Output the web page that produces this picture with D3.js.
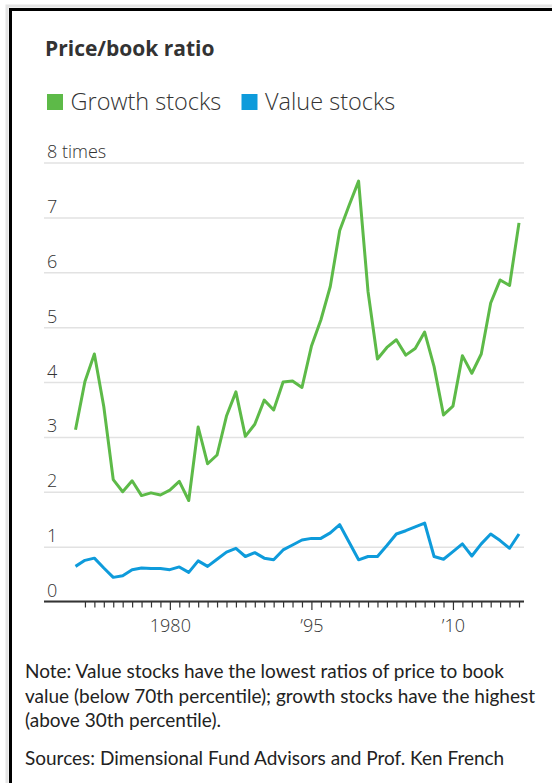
<!DOCTYPE html>
<html>
<head>
<meta charset="utf-8">
<script src="https://cdn.jsdelivr.net/npm/d3@7"></script>
<style>
  html, body { margin: 0; padding: 0; background: #fff; }
  svg { display: block; }
</style>
</head>
<body>
<script>
// years on the x axis, one point per year
var years = d3.range(1970, 2018);

// price/book ratio, growth stocks
var growth = [3.13, 4.01, 4.51, 3.55, 2.22, 2.00, 2.20, 1.93, 1.98, 1.94,
              2.03, 2.19, 1.84, 3.18, 2.51, 2.67, 3.38, 3.82, 3.01, 3.23,
              3.67, 3.49, 4.00, 4.02, 3.90, 4.65, 5.13, 5.74, 6.76, 7.22,
              7.66, 5.65, 4.42, 4.63, 4.77, 4.49, 4.61, 4.91, 4.28, 3.40,
              3.56, 4.48, 4.16, 4.51, 5.44, 5.86, 5.76, 6.90];

// price/book ratio, value stocks
var value = [0.64, 0.75, 0.79, 0.61, 0.44, 0.47, 0.58, 0.61, 0.60, 0.60,
             0.58, 0.63, 0.53, 0.74, 0.64, 0.77, 0.90, 0.97, 0.82, 0.89,
             0.79, 0.76, 0.94, 1.03, 1.12, 1.15, 1.15, 1.25, 1.40, 1.08,
             0.76, 0.82, 0.82, 1.02, 1.23, 1.29, 1.36, 1.43, 0.82, 0.77,
             0.91, 1.05, 0.83, 1.05, 1.23, 1.11, 0.97, 1.23];

// y tick values and the labelled x ticks
var yTicks = [0, 1, 2, 3, 4, 5, 6, 7, 8];
var xTicks = d3.range(1971, 2018);
var xLabels = {1980: "1980", 1995: "\u201995", 2010: "\u201910"};

var seriesNames = ["Growth stocks", "Value stocks"];
var seriesColors = ["#5dba48", "#0e9bdb"];

// ----------------------------------------------------------- //

var width = 552;
var height = 783;

var plotLeft = 44;
var plotRight = 524;

var svg = d3.select("body").append("svg")
    .attr("width", width)
    .attr("height", height);

// frame with a faint shadow
svg.append("rect")
  .attr("x", 7).attr("y", 6)
  .attr("width", 600).attr("height", 800)
  .attr("fill", "none")
  .attr("stroke", "#e4e4e4")
  .attr("stroke-width", 3);

svg.append("rect")
  .attr("x", 10.5).attr("y", 9.5)
  .attr("width", 600).attr("height", 800)
  .attr("fill", "#fff")
  .attr("stroke", "#000")
  .attr("stroke-width", 3);

// title
svg.append("text")
  .attr("x", 45).attr("y", 56)
  .attr("font-family", "'Open Sans', sans-serif")
  .attr("font-weight", 700)
  .attr("font-size", 21)
  .attr("fill", "#333")
  .text("Price/book ratio");

// legend
var legendX = [47, 241.5];
var legend = svg.selectAll("g.legend")
  .data(seriesNames)
  .enter().append("g")
  .attr("class", "legend")
  .attr("transform", (d, i) => `translate(${legendX[i]},0)`);

legend.append("rect")
  .attr("x", 0).attr("y", 94)
  .attr("width", 16).attr("height", 16)
  .attr("fill", (d, i) => seriesColors[i]);

legend.append("text")
  .attr("x", 23.5).attr("y", 109.5)
  .attr("font-family", "'Open Sans', sans-serif")
  .attr("font-weight", 300)
  .attr("font-size", 23.5)
  .attr("fill", "#333")
  .text(d => d);

// ----------------------------------------------------------- //

var xScale = d3.scaleLinear()
  .domain([1970, 2017])
  .range([75.5, 519]);

var yScale = d3.scaleLinear()
  .domain([0, 8])
  .range([601.5, 162.5]);

// y axis: grid lines with labels sitting on them
var yAxis = svg.append("g")
  .attr("transform", `translate(${plotLeft},0)`)
  .call(d3.axisLeft(yScale)
    .tickValues(yTicks)
    .tickSize(-(plotRight - plotLeft))
    .tickFormat(d => d === 8 ? "8 times" : d));

yAxis.select(".domain").remove();
yAxis.selectAll(".tick line")
  .attr("stroke", "#e2e2e2")
  .attr("stroke-width", 1.5);
yAxis.selectAll(".tick text")
  .attr("x", 3)
  .attr("dy", -5)
  .attr("text-anchor", "start")
  .attr("font-family", "'Open Sans', sans-serif")
  .attr("font-weight", 300)
  .attr("font-size", 18)
  .attr("fill", "#333");

// x axis: a tick every year, three of them labelled
var xAxis = svg.append("g")
  .attr("transform", `translate(0,${yScale(0)})`)
  .call(d3.axisBottom(xScale)
    .tickValues(xTicks)
    .tickSize(6)
    .tickFormat(d => xLabels[d] || ""));

xAxis.select(".domain").remove();
xAxis.selectAll(".tick line")
  .attr("stroke", "#333")
  .attr("stroke-width", 1.2)
  .attr("y2", d => xLabels[d] ? 8.5 : 6);
xAxis.selectAll(".tick text")
  .attr("y", 30)
  .attr("dy", 0)
  .attr("font-family", "'Open Sans', sans-serif")
  .attr("font-weight", 300)
  .attr("font-size", 18)
  .attr("fill", "#333");

xAxis.append("line")
  .attr("x1", plotLeft).attr("x2", plotRight)
  .attr("y1", 0).attr("y2", 0)
  .attr("stroke", "#333")
  .attr("stroke-width", 2);

// ----------------------------------------------------------- //

var line = d3.line()
  .x((d, i) => xScale(years[i]))
  .y(d => yScale(d));

svg.selectAll("path.series")
  .data([growth, value])
  .enter().append("path")
  .attr("class", "series")
  .attr("d", line)
  .attr("fill", "none")
  .attr("stroke", (d, i) => seriesColors[i])
  .attr("stroke-width", 3)
  .attr("stroke-linejoin", "round");

// ----------------------------------------------------------- //

// footnote
var noteLines = [
  "Note: Value stocks have the lowest ratios of price to book",
  "value (below 70th percentile); growth stocks have the highest",
  "(above 30th percentile).",
  "Sources: Dimensional Fund Advisors and Prof. Ken French"
];
var noteY = [678, 703, 727, 765];

svg.selectAll("text.note")
  .data(noteLines)
  .enter().append("text")
  .attr("class", "note")
  .attr("x", 25)
  .attr("y", (d, i) => noteY[i])
  .attr("font-family", "Lato, sans-serif")
  .attr("font-size", 19)
  .attr("fill", "#222")
  .text(d => d);
</script>
</body>
</html>
